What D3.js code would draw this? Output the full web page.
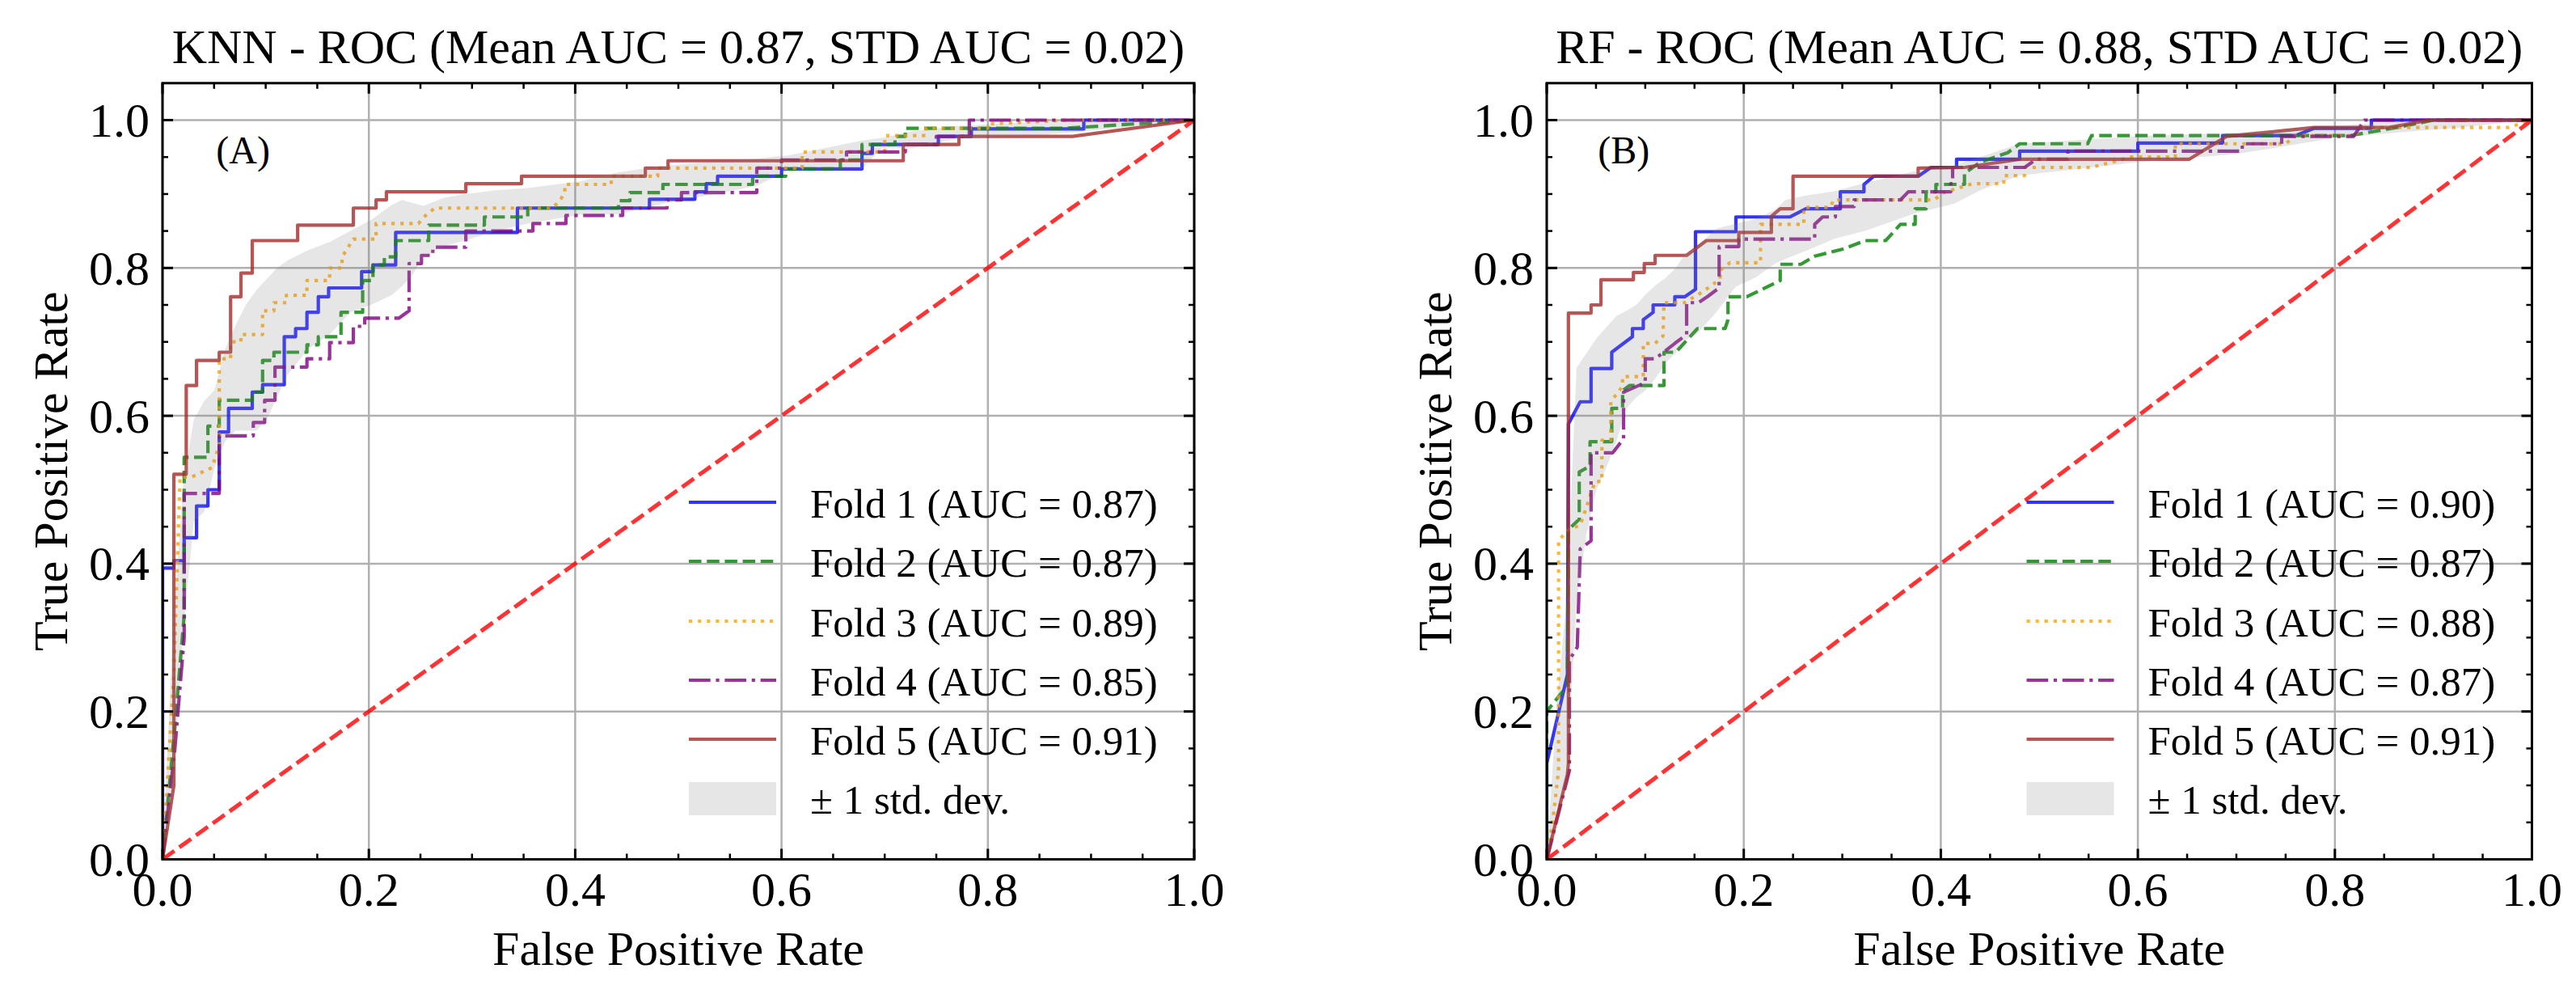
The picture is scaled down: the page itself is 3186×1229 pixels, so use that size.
<!DOCTYPE html>
<html><head><meta charset="utf-8">
<script src="https://cdn.jsdelivr.net/npm/d3@7"></script>
<style>
body{margin:0;background:#fff}
svg{display:block}
text{font-family:"Liberation Serif","Times New Roman",Times,serif;fill:#000}
</style>
</head><body>
<svg id="chart" width="3186" height="1229"></svg>
<script>
// ---------------- DATA ----------------
const majorTicks = [0, 0.2, 0.4, 0.6, 0.8, 1.0];
const foldNames = ["Fold 1", "Fold 2", "Fold 3", "Fold 4", "Fold 5"];
const knnAUC = [0.87, 0.87, 0.89, 0.85, 0.91];
const rfAUC  = [0.90, 0.87, 0.88, 0.87, 0.91];
const knnTitle = "KNN - ROC (Mean AUC = 0.87, STD AUC = 0.02)";
const rfTitle  = "RF - ROC (Mean AUC = 0.88, STD AUC = 0.02)";

// KNN folds: [fpr, tpr]
const knnFold1 = [[0,0],[0,0.394],[0.011,0.394],[0.011,0.404],[0.021,0.404],[0.021,0.435],[0.033,0.435],[0.033,0.478],[0.044,0.478],[0.044,0.5],[0.055,0.5],[0.055,0.578],[0.064,0.578],[0.064,0.61],[0.087,0.61],[0.087,0.632],[0.097,0.632],[0.097,0.642],[0.118,0.642],[0.118,0.707],[0.129,0.707],[0.129,0.718],[0.14,0.718],[0.14,0.74],[0.151,0.74],[0.151,0.761],[0.161,0.761],[0.161,0.773],[0.193,0.773],[0.193,0.795],[0.204,0.795],[0.204,0.804],[0.226,0.804],[0.226,0.848],[0.344,0.848],[0.344,0.881],[0.472,0.881],[0.472,0.893],[0.516,0.893],[0.516,0.903],[0.527,0.903],[0.527,0.914],[0.538,0.914],[0.538,0.924],[0.60,0.924],[0.60,0.934],[0.678,0.934],[0.678,0.955],[0.688,0.955],[0.688,0.967],[0.752,0.967],[0.752,0.978],[0.784,0.978],[0.784,0.988],[0.893,0.988],[0.893,1.0],[1,1]];
const knnFold2 = [[0,0],[0.012,0.18],[0.021,0.33],[0.021,0.544],[0.044,0.544],[0.044,0.586],[0.055,0.586],[0.055,0.621],[0.087,0.621],[0.087,0.632],[0.097,0.632],[0.097,0.675],[0.108,0.675],[0.108,0.686],[0.14,0.686],[0.14,0.696],[0.151,0.696],[0.151,0.707],[0.173,0.707],[0.173,0.74],[0.194,0.74],[0.194,0.783],[0.204,0.783],[0.204,0.804],[0.215,0.804],[0.215,0.815],[0.226,0.815],[0.226,0.837],[0.258,0.837],[0.258,0.858],[0.312,0.858],[0.312,0.869],[0.354,0.869],[0.354,0.881],[0.442,0.881],[0.442,0.891],[0.453,0.891],[0.453,0.902],[0.485,0.902],[0.485,0.913],[0.572,0.913],[0.572,0.924],[0.604,0.924],[0.604,0.934],[0.657,0.934],[0.657,0.946],[0.678,0.946],[0.678,0.967],[0.71,0.967],[0.71,0.978],[0.72,0.978],[0.72,0.989],[0.876,0.989],[1,1]];
const knnFold3 = [[0,0],[0.011,0.25],[0.017,0.517],[0.028,0.517],[0.048,0.53],[0.055,0.56],[0.055,0.677],[0.066,0.677],[0.066,0.7],[0.076,0.7],[0.076,0.71],[0.097,0.71],[0.097,0.742],[0.108,0.742],[0.108,0.753],[0.12,0.753],[0.12,0.763],[0.14,0.763],[0.14,0.783],[0.162,0.783],[0.162,0.8],[0.174,0.8],[0.174,0.815],[0.18,0.828],[0.185,0.839],[0.207,0.839],[0.207,0.86],[0.248,0.86],[0.255,0.871],[0.264,0.881],[0.378,0.881],[0.385,0.891],[0.39,0.902],[0.39,0.913],[0.435,0.913],[0.435,0.924],[0.48,0.924],[0.48,0.935],[0.62,0.935],[0.62,0.957],[0.70,0.957],[0.70,0.979],[0.74,0.979],[0.74,0.989],[0.80,0.989],[0.80,0.995],[0.88,1.0],[1,1]];
const knnFold4 = [[0,0],[0.012,0.15],[0.021,0.3],[0.021,0.495],[0.055,0.495],[0.055,0.573],[0.088,0.573],[0.088,0.591],[0.099,0.591],[0.099,0.621],[0.109,0.621],[0.109,0.666],[0.14,0.666],[0.14,0.677],[0.162,0.677],[0.162,0.699],[0.185,0.699],[0.185,0.721],[0.196,0.721],[0.196,0.732],[0.229,0.732],[0.239,0.742],[0.239,0.806],[0.251,0.806],[0.251,0.817],[0.262,0.817],[0.262,0.828],[0.294,0.828],[0.294,0.85],[0.359,0.85],[0.359,0.86],[0.391,0.86],[0.391,0.871],[0.446,0.871],[0.446,0.881],[0.489,0.881],[0.489,0.892],[0.503,0.892],[0.503,0.902],[0.576,0.902],[0.576,0.935],[0.60,0.935],[0.60,0.946],[0.663,0.946],[0.663,0.957],[0.72,0.957],[0.72,0.967],[0.75,0.967],[0.75,0.978],[0.782,0.978],[0.782,1.0],[1,1]];
const knnFold5 = [[0,0],[0.011,0.1],[0.011,0.521],[0.023,0.521],[0.023,0.641],[0.033,0.641],[0.033,0.675],[0.055,0.675],[0.055,0.686],[0.066,0.686],[0.066,0.761],[0.076,0.761],[0.076,0.793],[0.087,0.793],[0.087,0.837],[0.131,0.837],[0.131,0.858],[0.185,0.858],[0.185,0.881],[0.207,0.881],[0.207,0.892],[0.217,0.892],[0.217,0.903],[0.294,0.903],[0.294,0.914],[0.348,0.914],[0.348,0.924],[0.468,0.924],[0.468,0.935],[0.49,0.935],[0.49,0.945],[0.718,0.945],[0.718,0.967],[0.772,0.967],[0.772,0.978],[0.882,0.978],[1,1]];

// KNN std band: x, lower, upper
const knnBandX  = [0,0.0101,0.0202,0.0303,0.0404,0.0505,0.0606,0.0707,0.0808,0.0909,0.101,0.111,0.121,0.141,0.162,0.182,0.202,0.222,0.232,0.242,0.253,0.273,0.293,0.323,0.354,0.404,0.444,0.485,0.535,0.576,0.606,0.677,0.697,0.727,0.77,0.85,0.88,1.0];
const knnBandLo = [0,0.09,0.31,0.457,0.47,0.53,0.565,0.58,0.58,0.58,0.595,0.625,0.655,0.69,0.71,0.74,0.75,0.763,0.775,0.79,0.815,0.83,0.837,0.85,0.86,0.872,0.873,0.887,0.9,0.911,0.932,0.933,0.962,0.962,0.975,0.98,0.983,1.0];
const knnBandHi = [0,0.31,0.51,0.595,0.62,0.635,0.69,0.722,0.75,0.77,0.785,0.80,0.81,0.824,0.835,0.85,0.865,0.885,0.892,0.888,0.884,0.895,0.9,0.905,0.908,0.917,0.93,0.938,0.944,0.948,0.952,0.972,0.976,0.985,0.992,0.998,1.0,1.0];

// RF folds
const rfFold1 = [[0,0],[0,0.13],[0.021,0.25],[0.022,0.589],[0.034,0.619],[0.045,0.619],[0.045,0.664],[0.066,0.664],[0.066,0.686],[0.087,0.707],[0.087,0.718],[0.098,0.718],[0.098,0.73],[0.108,0.74],[0.108,0.75],[0.13,0.75],[0.13,0.761],[0.14,0.761],[0.151,0.771],[0.151,0.849],[0.192,0.849],[0.192,0.869],[0.247,0.869],[0.263,0.88],[0.298,0.88],[0.298,0.903],[0.322,0.903],[0.322,0.913],[0.332,0.924],[0.377,0.924],[0.39,0.936],[0.416,0.936],[0.416,0.947],[0.48,0.947],[0.48,0.958],[0.6,0.958],[0.6,0.969],[0.686,0.969],[0.686,0.979],[0.76,0.979],[0.779,0.989],[0.837,0.989],[0.837,1.0],[1,1]];
const rfFold2 = [[0,0],[0,0.2],[0.021,0.235],[0.022,0.446],[0.033,0.46],[0.033,0.524],[0.044,0.532],[0.044,0.565],[0.066,0.565],[0.066,0.61],[0.077,0.61],[0.077,0.634],[0.084,0.641],[0.119,0.641],[0.119,0.686],[0.131,0.686],[0.153,0.718],[0.181,0.718],[0.184,0.73],[0.184,0.761],[0.203,0.761],[0.237,0.783],[0.237,0.805],[0.258,0.805],[0.272,0.816],[0.302,0.826],[0.323,0.837],[0.344,0.837],[0.359,0.859],[0.374,0.859],[0.374,0.88],[0.385,0.88],[0.385,0.903],[0.395,0.903],[0.395,0.913],[0.424,0.913],[0.424,0.928],[0.44,0.943],[0.468,0.956],[0.48,0.968],[0.549,0.968],[0.553,0.979],[0.815,0.979],[0.863,0.99],[0.9,1.0],[1,1]];
const rfFold3 = [[0,0],[0.006,0.05],[0.012,0.12],[0.012,0.431],[0.022,0.446],[0.034,0.452],[0.049,0.511],[0.056,0.511],[0.056,0.567],[0.065,0.567],[0.065,0.619],[0.077,0.64],[0.077,0.653],[0.098,0.653],[0.098,0.698],[0.11,0.698],[0.118,0.708],[0.119,0.753],[0.14,0.753],[0.155,0.765],[0.166,0.775],[0.176,0.785],[0.176,0.797],[0.186,0.807],[0.217,0.807],[0.217,0.859],[0.261,0.859],[0.261,0.882],[0.288,0.882],[0.291,0.892],[0.393,0.892],[0.403,0.902],[0.432,0.914],[0.464,0.914],[0.464,0.925],[0.485,0.925],[0.485,0.936],[0.553,0.936],[0.593,0.95],[0.638,0.95],[0.638,0.968],[0.75,0.968],[0.76,0.979],[0.819,0.979],[0.83,0.99],[0.976,0.99],[1,1]];
const rfFold4 = [[0,0],[0.023,0.12],[0.023,0.27],[0.031,0.287],[0.034,0.42],[0.045,0.431],[0.045,0.55],[0.067,0.55],[0.078,0.569],[0.078,0.632],[0.1,0.645],[0.1,0.677],[0.11,0.677],[0.13,0.698],[0.142,0.71],[0.142,0.753],[0.154,0.753],[0.164,0.762],[0.175,0.773],[0.175,0.829],[0.195,0.829],[0.195,0.839],[0.272,0.839],[0.272,0.859],[0.28,0.869],[0.293,0.869],[0.293,0.883],[0.312,0.883],[0.312,0.892],[0.359,0.892],[0.367,0.903],[0.41,0.903],[0.41,0.914],[0.412,0.914],[0.412,0.936],[0.485,0.936],[0.497,0.947],[0.529,0.947],[0.529,0.958],[0.706,0.958],[0.706,0.968],[0.746,0.968],[0.746,0.978],[0.819,0.978],[0.83,1.0],[1,1]];
const rfFold5 = [[0,0],[0.021,0.115],[0.022,0.13],[0.022,0.739],[0.045,0.739],[0.045,0.75],[0.055,0.75],[0.055,0.784],[0.088,0.784],[0.088,0.794],[0.099,0.794],[0.099,0.806],[0.11,0.806],[0.11,0.817],[0.142,0.817],[0.162,0.837],[0.195,0.837],[0.195,0.848],[0.228,0.848],[0.228,0.87],[0.237,0.88],[0.25,0.88],[0.25,0.924],[0.377,0.924],[0.377,0.935],[0.424,0.936],[0.48,0.947],[0.652,0.947],[0.69,0.978],[0.779,0.99],[0.855,0.99],[0.896,1.0],[1,1]];

const rfBandX  = [0,0.0101,0.0202,0.0303,0.0404,0.0505,0.0606,0.0707,0.0808,0.0909,0.101,0.111,0.121,0.131,0.141,0.152,0.172,0.192,0.212,0.232,0.242,0.263,0.293,0.323,0.374,0.414,0.44,0.48,0.6,0.7,0.8,0.88,0.92,1.0];
const rfBandLo = [0,0.07,0.10,0.35,0.44,0.50,0.53,0.565,0.61,0.625,0.635,0.652,0.672,0.685,0.703,0.71,0.74,0.775,0.787,0.806,0.812,0.823,0.84,0.85,0.874,0.887,0.905,0.925,0.943,0.954,0.976,0.985,0.989,1.0];
const rfBandHi = [0,0.21,0.35,0.665,0.685,0.705,0.72,0.735,0.742,0.75,0.765,0.777,0.787,0.80,0.82,0.828,0.853,0.86,0.866,0.879,0.892,0.898,0.904,0.915,0.931,0.939,0.95,0.968,0.978,0.983,0.992,1.0,1.0,1.0];

// ---------------- STYLE ----------------
const foldColors = ["blue", "green", "orange", "purple", "brown"];
const foldDash = [null, "15.5,6.7", "4.2,6.9", "26.7,6.7,4.2,6.7", null];
const FONT = 60, LEGFONT = 51;

const panels = [
  {title: knnTitle, tag: "(A)", folds: [knnFold1,knnFold2,knnFold3,knnFold4,knnFold5], auc: knnAUC,
   bx: knnBandX, lo: knnBandLo, hi: knnBandHi, left: 201, right: 1477},
  {title: rfTitle, tag: "(B)", folds: [rfFold1,rfFold2,rfFold3,rfFold4,rfFold5], auc: rfAUC,
   bx: rfBandX, lo: rfBandLo, hi: rfBandHi, left: 1913, right: 3131.5}
];
const yBottom = 1062.5, yTopPx = 102.8;

const svg = d3.select("#chart");
svg.append("rect").attr("width",3186).attr("height",1229).attr("fill","#fff");
const fmt = d3.format(".1f");
const minorX = d3.range(0, 1.0001, 0.05).filter(v => Math.abs(v*5 - Math.round(v*5)) > 1e-6);
const minorY = d3.range(0, 1.0501, 0.05).filter(v => Math.abs(v*5 - Math.round(v*5)) > 1e-6);

panels.forEach((p, pi) => {
  const x = d3.scaleLinear().domain([0,1]).range([p.left, p.right]);
  const y = d3.scaleLinear().domain([0,1.05]).range([yBottom, yTopPx]);
  const g = svg.append("g");
  const clipId = "clip" + pi;
  g.append("clipPath").attr("id", clipId).append("rect")
    .attr("x", p.left).attr("y", yTopPx).attr("width", p.right - p.left).attr("height", yBottom - yTopPx);

  // grid
  const grid = g.append("g").attr("stroke", "#b0b0b0").attr("stroke-width", 2.5);
  majorTicks.forEach(t => {
    grid.append("line").attr("x1", x(t)).attr("x2", x(t)).attr("y1", yTopPx).attr("y2", yBottom);
    grid.append("line").attr("x1", p.left).attr("x2", p.right).attr("y1", y(t)).attr("y2", y(t));
  });

  const plot = g.append("g").attr("clip-path", `url(#${clipId})`);
  const line = d3.line().x(d => x(d[0])).y(d => y(d[1]));
  p.folds.forEach((f, i) => {
    plot.append("path").attr("d", line(f)).attr("fill", "none")
      .attr("stroke", foldColors[i]).attr("stroke-opacity", 0.8).attr("stroke-width", 4.2)
      .attr("stroke-linejoin", "round")
      .attr("stroke-dasharray", foldDash[i]);
  });
  // chance diagonal
  plot.append("path").attr("d", line([[0,0],[1,1]])).attr("fill","none")
    .attr("stroke","red").attr("stroke-opacity",0.8).attr("stroke-width",5)
    .attr("stroke-dasharray","18,7.5");
  // std band
  const area = d3.area().x((d,i) => x(p.bx[i])).y0((d,i) => y(p.lo[i])).y1((d,i) => y(p.hi[i]));
  plot.append("path").attr("d", area(p.bx)).attr("fill", "grey").attr("fill-opacity", 0.2);

  // frame
  g.append("rect").attr("x", p.left).attr("y", yTopPx).attr("width", p.right - p.left)
    .attr("height", yBottom - yTopPx).attr("fill","none").attr("stroke","#000").attr("stroke-width",3);

  // ticks (inward, all four sides)
  const tk = g.append("g").attr("stroke","#000");
  majorTicks.forEach(t => {
    tk.append("line").attr("x1",x(t)).attr("x2",x(t)).attr("y1",yBottom).attr("y2",yBottom-13).attr("stroke-width",3);
    tk.append("line").attr("x1",x(t)).attr("x2",x(t)).attr("y1",yTopPx).attr("y2",yTopPx+13).attr("stroke-width",3);
    tk.append("line").attr("y1",y(t)).attr("y2",y(t)).attr("x1",p.left).attr("x2",p.left+13).attr("stroke-width",3);
    tk.append("line").attr("y1",y(t)).attr("y2",y(t)).attr("x1",p.right).attr("x2",p.right-13).attr("stroke-width",3);
  });
  minorX.forEach(t => {
    tk.append("line").attr("x1",x(t)).attr("x2",x(t)).attr("y1",yBottom).attr("y2",yBottom-7).attr("stroke-width",2.5);
    tk.append("line").attr("x1",x(t)).attr("x2",x(t)).attr("y1",yTopPx).attr("y2",yTopPx+7).attr("stroke-width",2.5);
  });
  minorY.forEach(t => {
    if (y(t) < yTopPx + 2) return;
    tk.append("line").attr("y1",y(t)).attr("y2",y(t)).attr("x1",p.left).attr("x2",p.left+7).attr("stroke-width",2.5);
    tk.append("line").attr("y1",y(t)).attr("y2",y(t)).attr("x1",p.right).attr("x2",p.right-7).attr("stroke-width",2.5);
  });

  // tick labels
  majorTicks.forEach(t => {
    g.append("text").attr("x", x(t)).attr("y", 1120).attr("text-anchor","middle")
      .attr("font-size", FONT).text(fmt(t));
    g.append("text").attr("x", p.left - 16).attr("y", y(t)).attr("dy","0.34em").attr("text-anchor","end")
      .attr("font-size", FONT).text(fmt(t));
  });

  // axis labels & title
  const cx = (p.left + p.right) / 2;
  g.append("text").attr("x", cx).attr("y", 1193).attr("text-anchor","middle").attr("font-size",FONT).text("False Positive Rate");
  g.append("text").attr("transform", `translate(${p.left - 118},${(yTopPx + yBottom)/2}) rotate(-90)`)
    .attr("text-anchor","middle").attr("font-size",FONT).text("True Positive Rate");
  g.append("text").attr("x", cx).attr("y", 78).attr("text-anchor","middle").attr("font-size",FONT).text(p.title);
  g.append("text").attr("x", x(0.052)).attr("y", 202).attr("font-size", 48).text(p.tag);

  // legend
  const lg = g.append("g");
  const rowY = [621, 694, 768, 841, 914];
  const hx0 = p.right - 625, hx1 = p.right - 517, tx = p.right - 475;
  foldNames.forEach((n, i) => {
    lg.append("line").attr("x1",hx0).attr("x2",hx1).attr("y1",rowY[i]).attr("y2",rowY[i])
      .attr("stroke",foldColors[i]).attr("stroke-opacity",0.8).attr("stroke-width",4.2)
      .attr("stroke-dasharray", foldDash[i]);
    lg.append("text").attr("x",tx).attr("y",rowY[i]+19).attr("font-size",LEGFONT)
      .text(`${n} (AUC = ${p.auc[i].toFixed(2)})`);
  });
  lg.append("rect").attr("x",hx0).attr("y",967).attr("width",hx1-hx0).attr("height",41)
    .attr("fill","grey").attr("fill-opacity",0.2);
  lg.append("text").attr("x",tx).attr("y",1006).attr("font-size",LEGFONT).text("\u00b1 1 std. dev.");
});
</script>
</body></html>
